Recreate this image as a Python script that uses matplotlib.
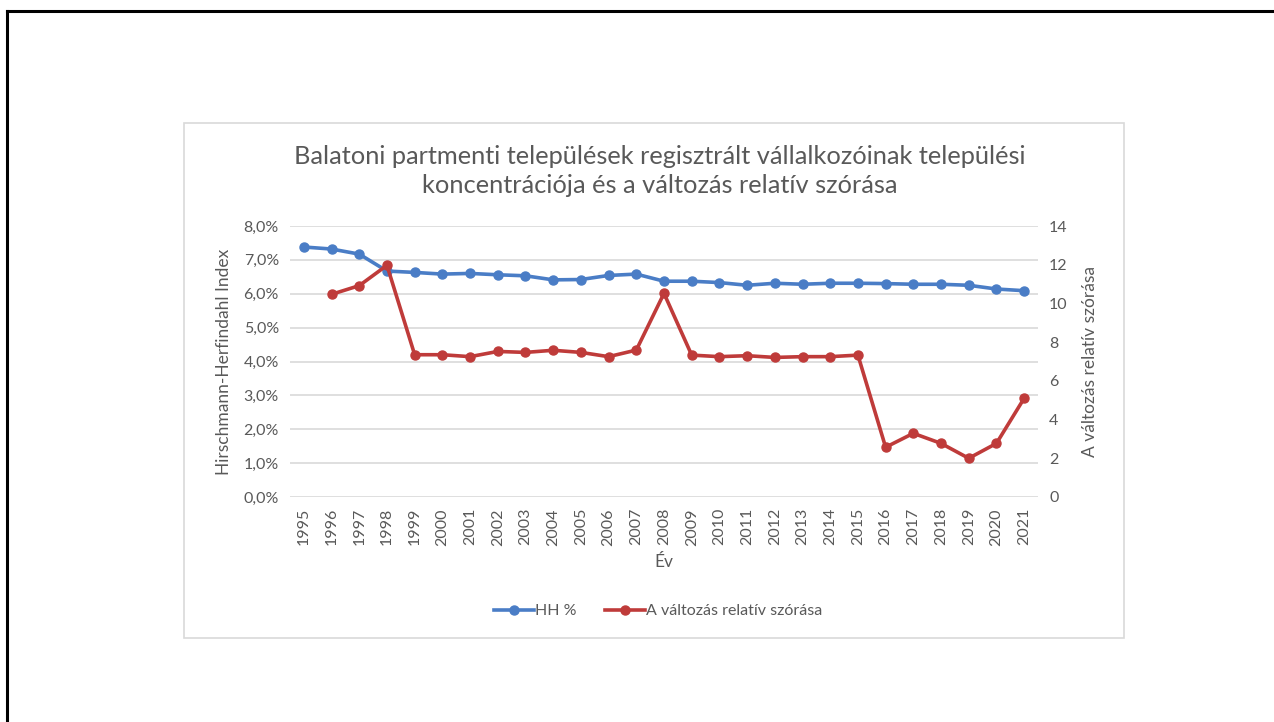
import matplotlib.pyplot as plt
from matplotlib.lines import Line2D
from matplotlib.patches import Rectangle
from matplotlib.ticker import FuncFormatter, MultipleLocator

plt.rcParams['font.family'] = ['Lato', 'DejaVu Sans']

# adatok
years = list(range(1995, 2022))
hh_pct = [7.38, 7.32, 7.17, 6.67, 6.63, 6.58, 6.60, 6.56, 6.53, 6.41, 6.42, 6.54, 6.58,
          6.37, 6.37, 6.33, 6.25, 6.31, 6.28, 6.31, 6.31, 6.30, 6.28, 6.28, 6.25, 6.14, 6.09]
rel_szoras = [None, 10.47, 10.92, 11.97, 7.35, 7.35, 7.25, 7.52, 7.47, 7.58, 7.47, 7.25, 7.59,
              10.52, 7.33, 7.25, 7.30, 7.21, 7.25, 7.25, 7.33, 2.57, 3.29, 2.77, 2.00, 2.77, 5.10]

title = ("Balatoni partmenti települések regisztrált vállalkozóinak települési\n"
         "koncentrációja és a változás relatív szórása")
label_hh = "HH %"
label_rel = "A változás relatív szórása"

blue = '#4A7DC6'
red = '#BF3B3A'
txt = '#595959'
grid_c = '#D9D9D9'

W, H = 1274, 722
fig = plt.figure(figsize=(W / 100, H / 100), dpi=100)
fig.patch.set_facecolor('white')

# keretek
fig.add_artist(Rectangle((184 / W, 1 - 638 / H), (1124 - 184) / W, (638 - 123) / H,
                         transform=fig.transFigure, fill=False, ec=grid_c, lw=1.2))
fig.add_artist(Line2D([7 / W, 1], [1 - 11 / H, 1 - 11 / H], transform=fig.transFigure,
                      color='black', lw=2.2))
fig.add_artist(Line2D([7 / W, 7 / W], [0, 1 - 11 / H], transform=fig.transFigure,
                      color='black', lw=2.2))

ax = fig.add_axes([290 / W, 1 - 497 / H, (1038 - 290) / W, (497 - 226) / H])
x = list(range(len(years)))
ax.plot(x, hh_pct, color=blue, lw=2.6, marker='o', ms=6.5, label=label_hh)
ax.set_ylim(0, 8)
ax.set_xlim(-0.5, len(years) - 0.5)
ax.yaxis.set_major_locator(MultipleLocator(1))
ax.yaxis.set_major_formatter(FuncFormatter(lambda v, p: f"{v:.1f}%".replace('.', ',')))
ax.grid(axis='y', color=grid_c, lw=1.2)
ax.set_axisbelow(True)
ax.set_xticks(x)
ax.set_xticklabels([str(y) for y in years], rotation=90)
ax.set_xlabel("Év", color=txt, fontsize=12.5, labelpad=6)
ax.set_ylabel("Hirschmann-Herfindahl Index", color=txt, fontsize=12.5, labelpad=8)

ax2 = ax.twinx()
xr = [i for i, v in zip(x, rel_szoras) if v is not None]
vr = [v for v in rel_szoras if v is not None]
ax2.plot(xr, vr, color=red, lw=2.6, marker='o', ms=6.5, label=label_rel)
ax2.set_ylim(0, 14)
ax2.yaxis.set_major_locator(MultipleLocator(2))
ax2.set_ylabel(label_rel, color=txt, fontsize=12.5, labelpad=10)

for a in (ax, ax2):
    for s in a.spines.values():
        s.set_visible(False)
    a.tick_params(length=0, colors=txt, labelsize=11.5, pad=8)

fig.text(660 / W, 1 - 171 / H, title, ha='center', va='center', fontsize=18.3,
         color=txt, linespacing=1.33)

handles = [Line2D([], [], color=blue, lw=2.6, marker='o', ms=6.5),
           Line2D([], [], color=red, lw=2.6, marker='o', ms=6.5)]
fig.legend(handles, [label_hh, label_rel], loc='center', bbox_to_anchor=(658 / W, 1 - 611 / H),
           ncol=2, frameon=False, fontsize=11.5, labelcolor=txt, handlelength=2.5,
           handletextpad=0.05, columnspacing=1.8)

fig.savefig('out.png', dpi=100)
